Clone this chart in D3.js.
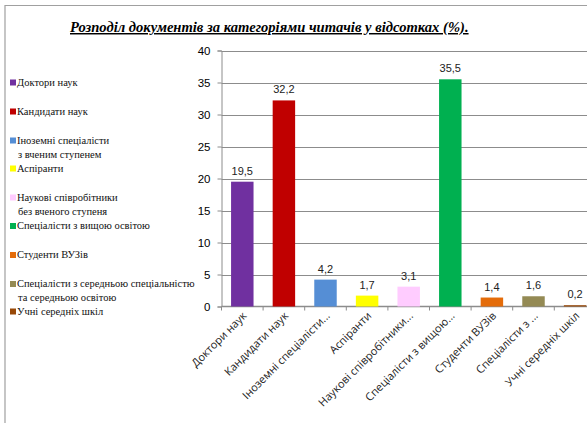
<!DOCTYPE html>
<html>
<head>
<meta charset="utf-8">
<script src="https://cdn.jsdelivr.net/npm/d3@7"></script>
<style>
    body { margin: 0; background: #fff; }
    svg { display: block; }
    .serif { font-family: "Liberation Serif", "DejaVu Serif", "Times New Roman", serif; }
</style>
</head>
<body>
<div id="chart"></div>
<script>
// Data
const categories = ["Доктори наук", "Кандидати наук", "Іноземні спеціалісти...", "Аспіранти",
    "Наукові співробітники...", "Спеціалісти з вищою...", "Студенти  ВУЗів", "Спеціалісти з ...", "Учні середніх  шкіл"];
const values = [19.5, 32.2, 4.2, 1.7, 3.1, 35.5, 1.4, 1.6, 0.2];
const legendLabels = [
    ["Доктори наук"],
    ["Кандидати наук"],
    ["Іноземні спеціалісти", "з вченим ступенем"],
    ["Аспіранти"],
    ["Наукові співробітники", "без вченого ступеня"],
    ["Спеціалісти з вищою освітою"],
    ["Студенти ВУЗів"],
    ["Спеціалісти з середньою спеціальністю", "та середньою освітою"],
    ["Учні середніх шкіл"]
];
const yTicks = [0, 5, 10, 15, 20, 25, 30, 35, 40];
const barColors = ["#7030a0", "#c00000", "#558ed5", "#ffff00", "#ffccff", "#00b050", "#e46c0a", "#948a54", "#984807"];

const W = 587, H = 423;
const svg = d3.select("#chart").append("svg")
    .attr("width", W)
    .attr("height", H);

// Outer frame
svg.append("path")
    .attr("d", `M5,${H} V5.5 H${W}`)
    .attr("fill", "none")
    .attr("stroke", "#a0a0a0")
    .attr("stroke-width", 1.2);

// Title
svg.append("text")
    .attr("class", "serif")
    .attr("x", 70)
    .attr("y", 32)
    .style("font-size", "14.6px")
    .style("font-weight", "bold")
    .style("font-style", "italic")
    .style("text-decoration", "underline")
    .text("Розподіл документів за категоріями читачів у відсотках (%).");

// Plot area
const plot = { left: 221.5, top: 50.5, bottom: 306.5, band: 41.6 };
const x = d3.scaleBand()
    .domain(categories)
    .range([plot.left, plot.left + plot.band * categories.length])
    .paddingInner(0.46)
    .paddingOuter(0.23);
const y = d3.scaleLinear()
    .domain([0, 40])
    .range([plot.bottom, plot.top]);

// Gridlines
svg.append("g")
    .selectAll("line")
    .data(yTicks.filter(d => d > 0))
    .join("line")
    .attr("x1", plot.left)
    .attr("x2", W)
    .attr("y1", d => Math.round(y(d)) + 0.5)
    .attr("y2", d => Math.round(y(d)) + 0.5)
    .attr("stroke", "#8c8c8c")
    .attr("stroke-width", 1);

// Y axis
const yAxis = svg.append("g")
    .attr("transform", `translate(${plot.left},0)`)
    .call(d3.axisLeft(y).tickValues(yTicks).tickSize(4).tickPadding(7));
yAxis.select(".domain").attr("stroke", "#8c8c8c");
yAxis.selectAll(".tick line").attr("stroke", "#8c8c8c");
yAxis.selectAll("text")
    .style("font-family", "'Liberation Sans', Arial, sans-serif")
    .style("font-size", "11.5px")
    .attr("fill", "#000");

// X axis line + ticks between categories
const xg = svg.append("g");
xg.append("line")
    .attr("x1", plot.left).attr("x2", W)
    .attr("y1", plot.bottom).attr("y2", plot.bottom)
    .attr("stroke", "#8c8c8c").attr("stroke-width", 1.5);
xg.selectAll("line.tk")
    .data(d3.range(categories.length + 1))
    .join("line")
    .attr("class", "tk")
    .attr("x1", i => plot.left + i * plot.band)
    .attr("x2", i => plot.left + i * plot.band)
    .attr("y1", plot.bottom)
    .attr("y2", plot.bottom + 4)
    .attr("stroke", "#8c8c8c");

// Bars
svg.selectAll("rect.bar")
    .data(values)
    .join("rect")
    .attr("class", "bar")
    .attr("x", (d, i) => x(categories[i]))
    .attr("y", d => y(d))
    .attr("width", x.bandwidth())
    .attr("height", d => plot.bottom - y(d))
    .attr("fill", (d, i) => barColors[i]);

// Value labels
svg.selectAll("text.val")
    .data(values)
    .join("text")
    .attr("class", "val")
    .attr("x", (d, i) => x(categories[i]) + x.bandwidth() / 2)
    .attr("y", d => y(d) - 7)
    .attr("text-anchor", "middle")
    .style("font-family", "'Liberation Sans', Arial, sans-serif")
    .style("font-size", "11px")
    .attr("fill", "#222")
    .text(d => String(d).replace(".", ","));

// Category labels, rotated
svg.selectAll("text.cat")
    .data(categories)
    .join("text")
    .attr("class", "cat")
    .attr("text-anchor", "end")
    .attr("transform", d => `translate(${x(d) + x.bandwidth() / 2 + 5},${plot.bottom + 10}) rotate(-45)`)
    .style("font-family", "'Open Sans', 'DejaVu Sans', sans-serif")
    .style("font-size", "11px")
    .attr("fill", "#222")
    .text(d => d);

// Legend
const legendY = [85.5, 114.5, 143.5, 171.5, 200.5, 229, 258, 287, 314.5];
const legend = svg.append("g");
legendLabels.forEach((lines, i) => {
    const g = legend.append("g").attr("transform", `translate(10,${legendY[i]})`);
    g.append("rect")
        .attr("x", 0).attr("y", -6)
        .attr("width", 6).attr("height", 6)
        .attr("fill", barColors[i]);
    lines.forEach((t, j) => {
        g.append("text")
            .attr("class", "serif")
            .attr("x", j === 0 ? 7 : 8)
            .attr("y", j * 14)
            .style("font-size", "10.5px")
            .attr("fill", "#111")
            .text(t);
    });
});
</script>
</body>
</html>
